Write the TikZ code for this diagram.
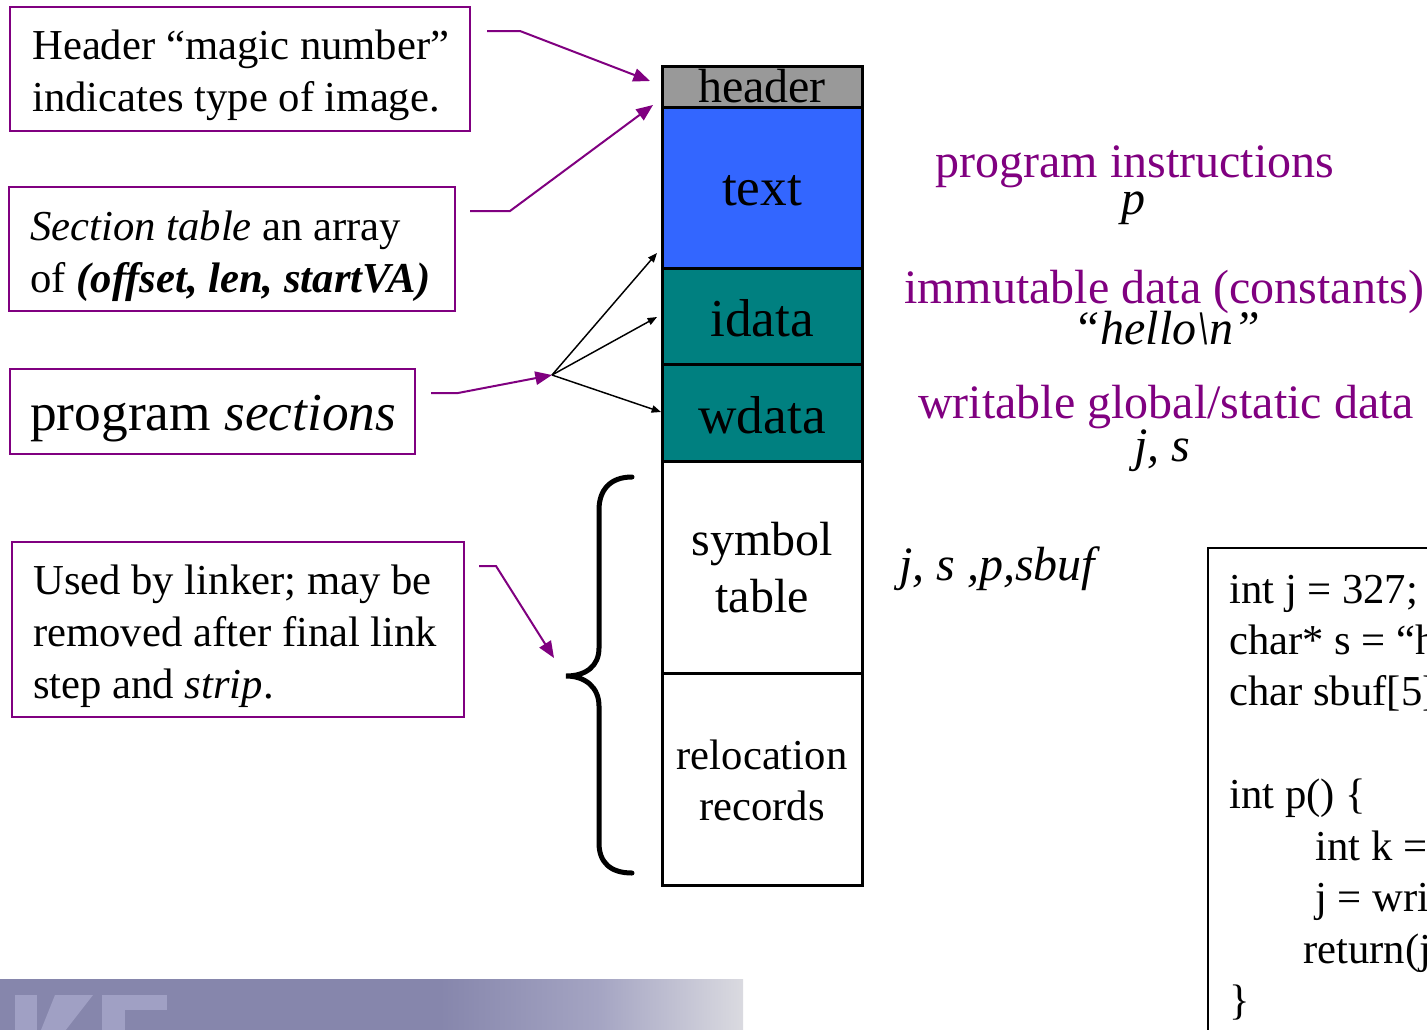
\documentclass[tikz,border=0pt]{standalone}
\usepackage{fontspec}
\setmainfont{Liberation Serif}
\usetikzlibrary{arrows.meta}
\definecolor{pur}{RGB}{128,0,128}
\definecolor{hdrgray}{RGB}{153,153,153}
\definecolor{txtblue}{RGB}{51,102,255}
\definecolor{dteal}{RGB}{0,128,128}
\definecolor{bannerA}{RGB}{134,134,172}
\definecolor{bannerB}{RGB}{165,165,195}
\definecolor{bannerC}{RGB}{218,218,224}
\definecolor{logoc}{RGB}{160,160,196}
\newcommand\fsNote{\fontsize{32}{39}\selectfont}
\newcommand\fsBig{\fontsize{40}{48}\selectfont}
\newcommand\fsLab{\fontsize{36}{43}\selectfont}
\newcommand\fsCode{\fontsize{32}{38.6}\selectfont}
\begin{document}
\begin{tikzpicture}[x=0.75pt,y=-0.75pt,
  note/.style={draw=pur,line width=1.5pt,inner sep=0pt},
  sect/.style={draw=black,line width=2.25pt,inner sep=0pt,minimum width=150pt},
  tl/.style={anchor=base west,inner sep=0pt},
  cl/.style={anchor=base,inner sep=0pt},
  parr/.style={pur,line width=1.5pt,-{Triangle[length=12.5pt,width=10pt]}},
  barr/.style={black,line width=1.1pt,-{Triangle[length=7pt,width=5.5pt]}}]
\useasboundingbox (0,0) rectangle (1427,1029);
\clip (0,0) rectangle (1427,1029);
\fill[white] (0,0) rectangle (1427,1029);

% bottom banner
\fill[bannerA] (0,979) rectangle (441,1040);
\shade[left color=bannerA,right color=bannerB] (440,979) rectangle (601,1040);
\shade[left color=bannerB,right color=bannerC] (600,979) rectangle (743,1040);
\fill[logoc] (15,995) rectangle (37,1040);
\fill[logoc] (55,995) -- (93,995) -- (58,1040) -- (37,1040) -- cycle;
\fill[logoc] (102,995) rectangle (167,1010);
\fill[logoc] (102,995) rectangle (125,1040);

% note boxes
\node[note,minimum width=345pt,minimum height=93pt] (n1) at (240,69) {};
\node[tl,font=\fsNote] (n1t) at (32,59) {\begin{tabular}[t]{@{}l@{}}Header “magic number”\\indicates type of image.\end{tabular}};
\node[note,minimum width=334.5pt,minimum height=93pt] (n2) at (232,249) {};
\node[tl,font=\fsNote] (n2t) at (30,240) {\begin{tabular}[t]{@{}l@{}}\textit{Section table} an array\\of \textbf{\textit{(offset, len, startVA)}}\end{tabular}};
\node[note,minimum width=303.75pt,minimum height=63.75pt] (n3) at (212.5,411.5) {};
\node[tl,font=\fsBig] (n3t) at (30,430) {program \textit{sections}};
\node[note,minimum width=339pt,minimum height=131.25pt] (n4) at (238,629.5) {};
\node[tl,font=\fsNote] (n4t) at (33,594) {\begin{tabular}[t]{@{}l@{}}Used by linker; may be\\removed after final link\\step and \textit{strip}.\end{tabular}};

% stack
\node[sect,fill=hdrgray,minimum height=30.75pt] (hdr) at (762,86.5) {};
\node[sect,fill=txtblue,minimum height=120.75pt] (txt) at (762,187.5) {};
\node[sect,fill=dteal,minimum height=72pt] (idata) at (762,316) {};
\node[sect,fill=dteal,minimum height=72.75pt] (wdata) at (762,412.5) {};
\node[sect,minimum height=159pt] (symtab) at (762,567) {};
\node[sect,minimum height=159pt] (reloc) at (762,779) {};
\node[cl,font=\fsLab] (hdrl) at (762,102) {header};
\node[cl,font=\fsBig] (txtl) at (762,205) {text};
\node[cl,font=\fsBig] (idatal) at (762,336) {idata};
\node[cl,font=\fsBig] (wdatal) at (762,433) {wdata};
\node[cl,font=\fsLab] (syml) at (762,555) {\begin{tabular}[t]{@{}c@{}}symbol\\table\end{tabular}};
\node[cl,font=\fontsize{32}{38.5}\selectfont] (rell) at (762,769) {\begin{tabular}[t]{@{}c@{}}relocation\\records\end{tabular}};

% brace
\draw[line width=3.75pt,line cap=round] (632,477) .. controls (610,477) and (599,490) .. (599,510) -- (599,648) .. controls (599,666) and (586,676) .. (566,676) .. controls (586,676) and (599,688) .. (599,706) -- (599,843) .. controls (599,862) and (610,873) .. (632,873);

% right labels
\node[cl,font=\fsLab,text=pur] (l1) at (1135,177) {program instructions};
\node[cl,font=\fsLab] (l1b) at (1133,214) {\textit{p}};
\node[cl,font=\fsLab,text=pur] (l2) at (1164,303) {immutable data (constants)};
\node[cl,font=\fsLab] (l2b) at (1167,344) {\textit{“hello\textbackslash n”}};
\node[cl,font=\fsLab] (l3b) at (1162,461) {\textit{j,\ s}};
\node[cl,font=\fsLab,text=pur] (l3) at (1166,418) {writable global/static data};
\node[tl,font=\fsLab] (l4) at (899,580) {\textit{j,\ s ,p,sbuf}};

% code box
\node[draw=black,line width=1.9pt,inner sep=0pt,minimum width=172.5pt,minimum height=367.5pt] (codebox) at (1323,793) {};
\node[tl,font=\fsCode] (code) at (1229,603) {\begin{tabular}[t]{@{}l@{}}int j = 327;\\char* s = “hello\textbackslash n”;\\char sbuf[5];\\ \\int p() \{\\\hspace*{64.5pt}int k = 0;\\\hspace*{64.5pt}j = write(s, 6);\\\hspace*{55.5pt}return(j);\\\}\end{tabular}};

% connectors
\coordinate (a1s) at (487,31);
\coordinate (a1b) at (520,31);
\coordinate (a1e) at (650,81);
\coordinate (a2s) at (470,211);
\coordinate (a2b) at (510,211);
\coordinate (a2e) at (653,105);
\coordinate (a3s) at (431,393);
\coordinate (a3b) at (458,393);
\coordinate (fan) at (552,375);
\coordinate (a4s) at (479,566);
\coordinate (a4b) at (496,566);
\coordinate (a4e) at (554,658);
\coordinate (t1) at (657,253);
\coordinate (t2) at (657,317);
\coordinate (t3) at (661,412);
\draw[parr] (a1s) -- (a1b) -- (a1e);
\draw[parr] (a2s) -- (a2b) -- (a2e);
\draw[parr] (a3s) -- (a3b) -- (fan);
\draw[parr] (a4s) -- (a4b) -- (a4e);
\draw[barr] (fan) -- (t1);
\draw[barr] (fan) -- (t2);
\draw[barr] (fan) -- (t3);
\end{tikzpicture}
\end{document}
